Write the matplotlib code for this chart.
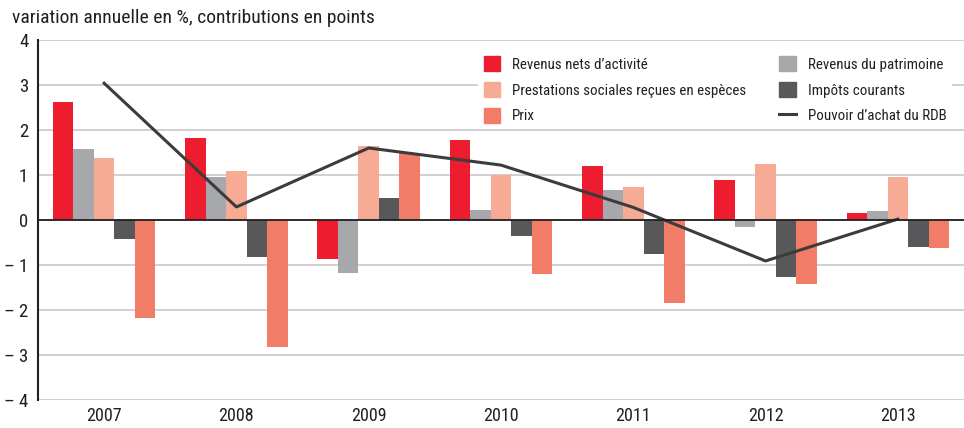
import numpy as np
import matplotlib
matplotlib.use("Agg")
import matplotlib.pyplot as plt
from matplotlib.patches import Patch
from matplotlib.lines import Line2D
from matplotlib import font_manager

# police etroite si disponible
noms = set(f.name for f in font_manager.fontManager.ttflist)
famille = [n for n in ['Roboto Condensed', 'Liberation Sans Narrow', 'Roboto'] if n in noms]
plt.rcParams['font.family'] = famille + ['DejaVu Sans']

# donnees
annees = ['2007', '2008', '2009', '2010', '2011', '2012', '2013']
revenus_activite = [2.62, 1.83, -0.87, 1.77, 1.20, 0.89, 0.16]
revenus_patrimoine = [1.57, 0.95, -1.18, 0.22, 0.67, -0.15, 0.20]
prestations = [1.37, 1.08, 1.65, 1.00, 0.73, 1.24, 0.96]
impots = [-0.43, -0.83, 0.48, -0.35, -0.75, -1.26, -0.59]
prix = [-2.18, -2.83, 1.50, -1.19, -1.84, -1.42, -0.62]
pouvoir_achat = [3.04, 0.29, 1.60, 1.22, 0.28, -0.91, 0.02]

series = [
    (revenus_activite, '#ED1C2E', "Revenus nets d\u2019activit\u00e9"),
    (revenus_patrimoine, '#A7A8AB', 'Revenus du patrimoine'),
    (prestations, '#F7AA94', 'Prestations sociales re\u00e7ues en esp\u00e8ces'),
    (impots, '#58585A', 'Imp\u00f4ts courants'),
    (prix, '#F17C67', 'Prix'),
]

fig = plt.figure(figsize=(9.64, 4.28), dpi=100)
ax = fig.add_axes([38 / 964, 28 / 428, 926 / 964, 360 / 428])

x = np.arange(len(annees))
w = 0.155
for i, (vals, col, lab) in enumerate(series):
    ax.bar(x + (i - 2) * w, vals, width=w, color=col, zorder=3)

ax.plot(x, pouvoir_achat, color='#3C3C3C', lw=2.2, zorder=4)

ax.set_xlim(-0.5, len(annees) - 0.5)
ax.set_ylim(-4, 4)
ax.set_yticks(range(-4, 5))
ax.set_yticklabels(['\u2013 %d' % -v if v < 0 else str(v) for v in range(-4, 5)], fontsize=13.5)
ax.set_xticks(x)
ax.set_xticklabels(annees, fontsize=13)
ax.tick_params(axis='both', length=0, colors='#231F20')
ax.tick_params(axis='y', pad=7)
ax.tick_params(axis='x', pad=5)

ax.yaxis.grid(True, color='#C8C8CA', lw=1.2, zorder=0)
ax.axhline(0, color='#231F20', lw=1.3, zorder=5)
for s in ['top', 'right', 'bottom']:
    ax.spines[s].set_visible(False)
ax.spines['left'].set_color('#231F20')
ax.spines['left'].set_linewidth(1.5)

fig.text(12 / 964, 1 - 18 / 428, 'variation annuelle en %, contributions en points',
         fontsize=14, va='center', ha='left', color='#231F20')

handles = [
    Patch(color=series[0][1], label=series[0][2]),
    Patch(color=series[2][1], label=series[2][2]),
    Patch(color=series[4][1], label=series[4][2]),
    Patch(color=series[1][1], label=series[1][2]),
    Patch(color=series[3][1], label=series[3][2]),
    Line2D([0], [0], color='#3C3C3C', lw=2.2, label='Pouvoir d\u2019achat du RDB'),
]
leg = ax.legend(handles=handles, ncol=2, loc='upper left',
                bbox_to_anchor=(432 / 926, 1 - 3 / 360), fontsize=10.8,
                frameon=True, facecolor='white', edgecolor='none', framealpha=1,
                handlelength=1.1, handleheight=1.1, handletextpad=0.8,
                columnspacing=2.2, labelspacing=0.7, borderpad=0.4)
leg.set_zorder(6)
for t in leg.get_texts():
    t.set_color('#231F20')

fig.savefig('out.png', dpi=100)
